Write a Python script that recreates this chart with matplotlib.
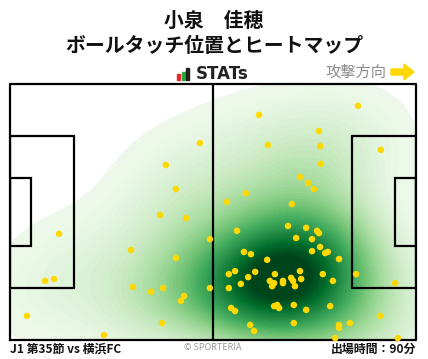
import numpy as np
import matplotlib
matplotlib.use("Agg")
from matplotlib import pyplot as plt
from matplotlib.patches import Rectangle, Polygon

plt.rcParams['font.family'] = ['Noto Sans CJK JP', 'DejaVu Sans']

# ball touch positions, pitch metres (105 x 68), attacking to the right
touch_x = [49.1, 40.3, 42.9, 38.8, 45.5, 12.7, 31.3, 42.9, 9.1, 11.4,
           31.8, 36.5, 39.6, 45.0, 44.2, 4.4, 39.3, 24.3, 51.7, 51.7,
           64.4, 90.0, 79.9, 66.7, 80.2, 95.9, 80.4, 75.0, 77.1, 78.6,
           61.0, 56.1, 72.9, 58.7, 71.9, 76.6, 79.4, 79.9, 74.0, 78.1,
           80.2, 78.1, 81.5, 82.2, 60.5, 62.3, 85.1, 66.5, 58.2, 56.6,
           63.4, 61.6, 75.0, 68.5, 80.9, 89.5, 75.3, 72.7, 73.2, 59.7,
           67.2, 68.3, 67.8, 70.6, 70.6, 73.7, 83.5, 56.6, 99.6, 57.2,
           58.2, 68.3, 69.1, 69.6, 73.4, 76.6, 82.8, 95.7, 62.1, 63.1,
           73.4, 85.1, 85.1, 87.9, 84.1, 100.3]
touch_y = [52.3, 46.5, 40.1, 33.2, 32.4, 28.2, 23.9, 21.8, 15.7, 16.2,
           14.1, 12.8, 13.8, 11.7, 10.4, 6.4, 4.5, 1.3, 26.8, 13.8,
           59.8, 62.2, 55.5, 51.8, 51.5, 50.5, 46.8, 43.3, 41.7, 40.1,
           39.0, 36.7, 36.1, 29.0, 30.3, 29.8, 29.0, 28.4, 27.1, 26.8,
           24.7, 23.6, 23.1, 23.4, 23.4, 22.8, 21.5, 21.3, 18.3, 17.5,
           18.1, 16.7, 18.3, 17.5, 17.5, 17.5, 16.2, 16.5, 15.7, 14.9,
           15.7, 15.1, 14.3, 15.7, 15.1, 14.3, 15.7, 13.8, 15.1, 8.5,
           7.7, 9.0, 9.3, 8.5, 9.3, 8.0, 9.0, 6.4, 4.0, 2.4,
           4.5, 4.0, 3.2, 4.5, 0.5, 0.5]

player = "小泉\u3000佳穂"
subtitle = "ボールタッチ位置とヒートマップ"
match_label = "J1 第35節 vs 横浜FC"
minutes_label = "出場時間：90分"

PITCH_L, PITCH_W = 105.0, 68.0


def kde_grid(x, y, nx=320, ny=210, adjust=1.0):
    """gaussian kde (scott bandwidth) evaluated on the pitch"""
    pts = np.vstack([x, y])
    n = pts.shape[1]
    factor = n ** (-1.0 / 6) * adjust
    cov = np.cov(pts) * factor ** 2
    inv = np.linalg.inv(cov)
    gx = np.linspace(0, PITCH_L, nx)
    gy = np.linspace(0, PITCH_W, ny)
    XX, YY = np.meshgrid(gx, gy)
    dx = XX[..., None] - pts[0]
    dy = YY[..., None] - pts[1]
    q = inv[0, 0] * dx * dx + 2 * inv[0, 1] * dx * dy + inv[1, 1] * dy * dy
    z = np.exp(-0.5 * q).sum(axis=-1)
    return gx, gy, z / z.max()


def draw_pitch(ax):
    lc, lw = "black", 1.6
    ax.plot([0, PITCH_L, PITCH_L, 0, 0], [0, 0, PITCH_W, PITCH_W, 0], color=lc, lw=lw, clip_on=False)
    ax.plot([PITCH_L / 2, PITCH_L / 2], [0, PITCH_W], color=lc, lw=lw)
    for side in (0, 1):
        for depth, width in ((16.5, 40.32), (5.5, 18.32)):
            x0 = 0 if side == 0 else PITCH_L - depth
            ax.add_patch(Rectangle((x0, PITCH_W / 2 - width / 2), depth, width,
                                   fill=False, ec=lc, lw=lw))


fig = plt.figure(figsize=(4.28, 3.59), dpi=100)
fig.patch.set_facecolor("white")

ax = fig.add_axes([10 / 428, 19 / 359, 406 / 428, 256 / 359])
gx, gy, z = kde_grid(np.array(touch_x), np.array(touch_y), adjust=1.3)
levels = np.linspace(0.05, 1.0, 60)
ax.contourf(gx, gy, z, levels=levels, cmap="Greens", vmin=0.0, vmax=0.92, extend="max")
draw_pitch(ax)
ax.scatter(touch_x, touch_y, s=22, color="#ffd800", edgecolors="none", zorder=5, clip_on=False)
ax.set_xlim(0, PITCH_L)
ax.set_ylim(0, PITCH_W)
ax.axis("off")

# header
fig.text(0.5, 1 - 20 / 359, player, ha="center", va="center", fontsize=14.3, fontweight="bold", color="#111111")
fig.text(0.5, 1 - 46 / 359, subtitle, ha="center", va="center", fontsize=14.3, fontweight="bold", color="#111111")

# STATs logo
for x0, h, c in ((177, 6, "#e8262b"), (181.5, 8, "#26a83a"), (186, 12, "#222222")):
    fig.add_artist(Rectangle((x0 / 428, 1 - 80 / 359), 3.3 / 428, h / 359, color=c, transform=fig.transFigure))
fig.text(196 / 428, 1 - 74 / 359, "STATs", ha="left", va="center", fontsize=12, fontweight="bold",
         color="#222222", family=["DejaVu Sans"])

# attack direction
fig.text(386 / 428, 1 - 72 / 359, "攻撃方向", ha="right", va="center", fontsize=11, color="#8c8c8c")
arrow = [(391, 69), (404, 69), (404, 64), (414, 72), (404, 80), (404, 75), (391, 75)]
fig.add_artist(Polygon([(px / 428, 1 - py / 359) for px, py in arrow], closed=True,
                       color="#ffd800", transform=fig.transFigure))

# footer
fig.text(10 / 428, 1 - 349 / 359, match_label, ha="left", va="center", fontsize=8.6, fontweight="bold", color="#111111")
fig.text(213 / 428, 1 - 348 / 359, "© SPORTERIA", ha="center", va="center", fontsize=6.5, color="#999999")
fig.text(416 / 428, 1 - 349 / 359, minutes_label, ha="right", va="center", fontsize=8.6, fontweight="bold", color="#111111")

fig.savefig("out.png", dpi=100)
